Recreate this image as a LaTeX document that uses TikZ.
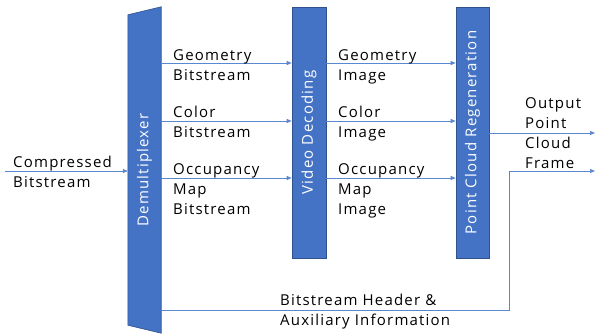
\documentclass[tikz,border=0pt]{standalone}
\usepackage{fontspec}
\usepackage{graphicx}
\setmainfont{Open Sans}[LetterSpace=8]
\usetikzlibrary{arrows.meta,positioning}
\definecolor{blockblue}{HTML}{4472C4}
\definecolor{blockedge}{HTML}{2F528F}
\definecolor{lineblue}{HTML}{5B87D0}

\begin{document}
\begin{tikzpicture}[x=1pt,y=-1pt,
    block/.style={draw=blockedge,fill=blockblue,line width=0.6pt,
      minimum width=34pt,minimum height=251pt,inner sep=0pt,text=white,
      font=\fontsize{15}{20}\selectfont},
    lbl/.style={align=left,anchor=north west,inner sep=0pt,
      font=\fontsize{15}{20}\selectfont},
    flow/.style={draw=lineblue,line width=0.7pt,-{Triangle[length=5pt,width=4pt]}},
    wire/.style={draw=lineblue,line width=0.7pt}
  ]
  \useasboundingbox (0,0) rectangle (596,333);

  % blocks
  \node[inner sep=0pt,minimum width=33pt,minimum height=326pt,text=white,
    font=\fontsize{15}{20}\selectfont] (demux) at (144.5,170) {};
  \fill[blockblue,draw=blockedge,line width=0.6pt]
    (demux.north east) -- (demux.south east)
    -- ([yshift=8pt]demux.south west) -- ([yshift=-8pt]demux.north west) -- cycle;
  \node[text=white,font=\fontsize{15}{20}\selectfont] at (demux.center) {\rotatebox{90}{Demultiplexer}};
  \node[block] (vdec) at (309,132.5) {\rotatebox{90}{Video Decoding}};
  \node[block,minimum width=33pt] (pcr) at (472.5,132.5) {\rotatebox{90}{Point Cloud Regeneration}};

  % levels of the connectors
  \coordinate (in) at (5,171);
  \coordinate (geo) at (0,63);
  \coordinate (col) at (0,121);
  \coordinate (occ) at (0,178);
  \coordinate (out) at (595,133);
  \coordinate (aux) at (509,310);
  \coordinate (auxout) at (595,171);

  % connectors
  \draw[flow] (in) -- (demux.west |- in);
  \draw[flow] (demux.east |- geo) -- (vdec.west |- geo);
  \draw[flow] (demux.east |- col) -- (vdec.west |- col);
  \draw[flow] (demux.east |- occ) -- (vdec.west |- occ);
  \draw[flow] (vdec.east |- geo) -- (pcr.west |- geo);
  \draw[flow] (vdec.east |- col) -- (pcr.west |- col);
  \draw[flow] (vdec.east |- occ) -- (pcr.west |- occ);
  \draw[flow] (pcr.east |- out) -- (out);
  \draw[flow] (demux.east |- aux) -- (aux) |- (auxout);

  % labels
  \node[lbl] (lin) at (13,156) {Compressed\\Bitstream};
  \node[lbl] (lgeob) at (173,49) {Geometry\\Bitstream};
  \node[lbl] (lcolb) at (173,106) {Color\\Bitstream};
  \node[lbl] (loccb) at (173,163) {Occupancy\\Map\\Bitstream};
  \node[lbl] (lgeoi) at (338,49) {Geometry\\Image};
  \node[lbl] (lcoli) at (338,106) {Color\\Image};
  \node[lbl] (locci) at (338,163) {Occupancy\\Map\\Image};
  \node[lbl] (lout) at (525,97) {Output\\Point\\Cloud\\Frame};
  \node[lbl] (laux) at (280,294) {Bitstream Header \&\\Auxiliary Information};
\end{tikzpicture}
\end{document}
